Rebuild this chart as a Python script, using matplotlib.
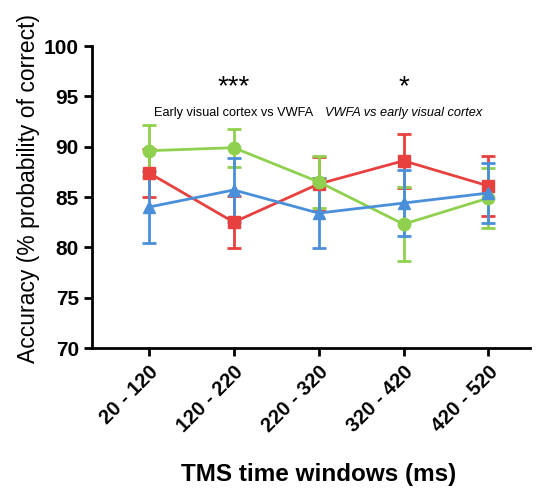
import matplotlib
matplotlib.use("Agg")
import matplotlib.pyplot as plt
import numpy as np

plt.rcParams['font.family'] = ['Liberation Sans', 'DejaVu Sans']

categories = ["20 - 120", "120 - 220", "220 - 320", "320 - 420", "420 - 520"]
green_mean = [89.6, 89.9, 86.5, 82.3, 84.9]
green_err = [2.6, 1.9, 2.6, 3.7, 3.0]
red_mean = [87.4, 82.5, 86.3, 88.6, 86.1]
red_err = [2.4, 2.6, 2.7, 2.7, 3.0]
blue_mean = [84.0, 85.7, 83.4, 84.4, 85.4]
blue_err = [3.6, 3.2, 3.5, 3.3, 3.0]

green_c = "#8fd14f"
red_c = "#e8403f"
blue_c = "#4a8fda"

fig = plt.figure(figsize=(5.36, 4.91), dpi=100)
ax = fig.add_axes([0.1716, 0.2912, 0.8174, 0.6151])

x = np.arange(1, len(categories) + 1)
for mean, err, c, m, ms in [(red_mean, red_err, red_c, 's', 8),
                            (green_mean, green_err, green_c, 'o', 9),
                            (blue_mean, blue_err, blue_c, '^', 8)]:
    ax.errorbar(x, mean, yerr=err, color=c, marker=m, markersize=ms,
                linewidth=2.0, elinewidth=2.0, capsize=5, capthick=2.0)

ax.set_xlim(0.33, 5.49)
ax.set_ylim(70, 100)
ax.set_yticks([70, 75, 80, 85, 90, 95, 100])
ax.set_xticks(x)
ax.set_xticklabels(categories, rotation=45, ha='right', rotation_mode='anchor',
                   fontsize=14.5, fontweight='bold')
for lab in ax.get_yticklabels():
    lab.set_fontsize(15)
    lab.set_fontweight('bold')

for s in ['top', 'right']:
    ax.spines[s].set_visible(False)
for s in ['left', 'bottom']:
    ax.spines[s].set_linewidth(2.0)
ax.tick_params(width=2.0, length=6)
ax.tick_params(axis='x', pad=4)

ax.set_ylabel("Accuracy (% probability of correct)", fontsize=16.5)
ax.yaxis.set_label_coords(-0.119, 0.527)
ax.set_xlabel("TMS time windows (ms)", fontsize=17.5, fontweight='bold')
ax.xaxis.set_label_coords(0.518, -0.381)

ax.text(2, 95.2, "***", ha='center', va='baseline', fontsize=20)
ax.text(4, 95.2, "*", ha='center', va='baseline', fontsize=20)
ax.text(2, 93.35, "Early visual cortex vs VWFA", ha='center', va='center', fontsize=9.2)
ax.text(4, 93.35, "VWFA vs early visual cortex", ha='center', va='center', fontsize=9.2,
        style='italic')

fig.savefig("out.png", dpi=100)
